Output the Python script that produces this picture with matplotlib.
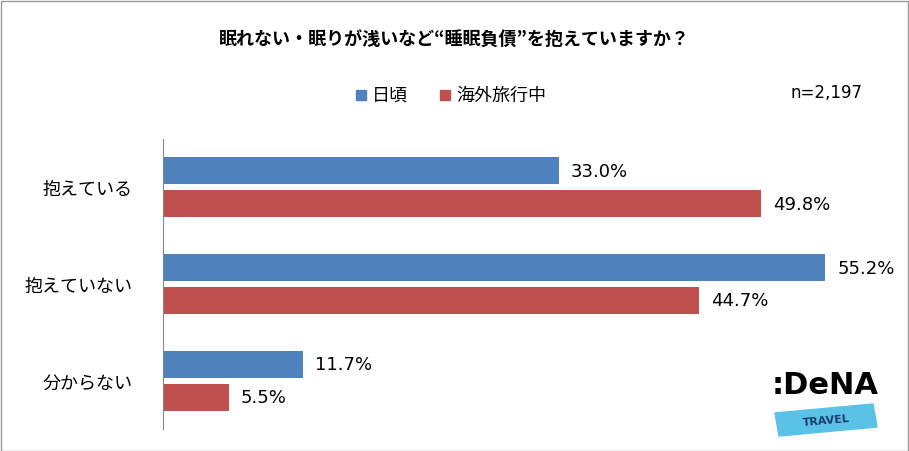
import matplotlib
matplotlib.use("Agg")
import matplotlib.pyplot as plt
from matplotlib.patches import Rectangle, Polygon

plt.rcParams["font.family"] = "Noto Sans CJK JP"

categories = ["抱えている", "抱えていない", "分からない"]
series_names = ["日頃", "海外旅行中"]
daily = [33.0, 55.2, 11.7]
travel = [49.8, 44.7, 5.5]
colors = ["#4F81BD", "#C0504D"]

fig = plt.figure(figsize=(9.09, 4.52), dpi=100)
ax = fig.add_axes([163/909, 22/452, 720/909, 290/452])
ax.set_xlim(0, 60)
ax.set_ylim(2.5, -0.5)
h = 0.28
for i, (d, t) in enumerate(zip(daily, travel)):
    ax.barh(i - 0.17, d, height=h, color=colors[0])
    ax.barh(i + 0.17, t, height=h, color=colors[1])
    ax.text(d + 1, i - 0.17, f"{d:.1f}%", va="center", fontsize=13, family="DejaVu Sans")
    ax.text(t + 1, i + 0.17, f"{t:.1f}%", va="center", fontsize=13, family="DejaVu Sans")
ax.set_yticks(range(3))
ax.set_yticklabels(categories, fontsize=13)
ax.tick_params(axis="y", length=0, pad=22)
ax.set_xticks([])
for s in ["top", "right", "bottom"]:
    ax.spines[s].set_visible(False)
ax.spines["left"].set_color("#888888")

fig.text(0.5, 1 - 40/452, "眠れない・眠りが浅いなど“睡眠負債”を抱えていますか？",
         ha="center", va="center", fontsize=13, fontweight="bold")
# legend
for x, c, n in [(356, colors[0], series_names[0]), (440, colors[1], series_names[1])]:
    fig.patches.append(Rectangle((x/909, 1-101/452), 10/909, 10/452, color=c, transform=fig.transFigure))
    fig.text((x+16)/909, 1-96/452, n, va="center", fontsize=13)
fig.text(790/909, 1-93/452, "n=2,197", va="center", fontsize=12, family="DejaVu Sans")
# logo
fig.text(772/909, 1-385/452, ":DeNA", va="center", fontsize=22, fontweight="bold", family="DejaVu Sans")
fig.patches.append(Polygon([(775/909, 1-414/452), (873/909, 1-405/452), (877/909, 1-428/452), (779/909, 1-437/452)],
                           closed=True, color="#5BC2E7", transform=fig.transFigure))
fig.text(826/909, 1-421/452, "TRAVEL", ha="center", va="center", fontsize=8, fontweight="bold",
         color="#1a3a6b", rotation=5, family="DejaVu Sans")
fig.patches.append(Rectangle((0.5/909, 0.5/452), 907/909, 450/452, fill=False, ec="#999999", lw=1,
                             transform=fig.transFigure))
fig.savefig("out.png", dpi=100)
